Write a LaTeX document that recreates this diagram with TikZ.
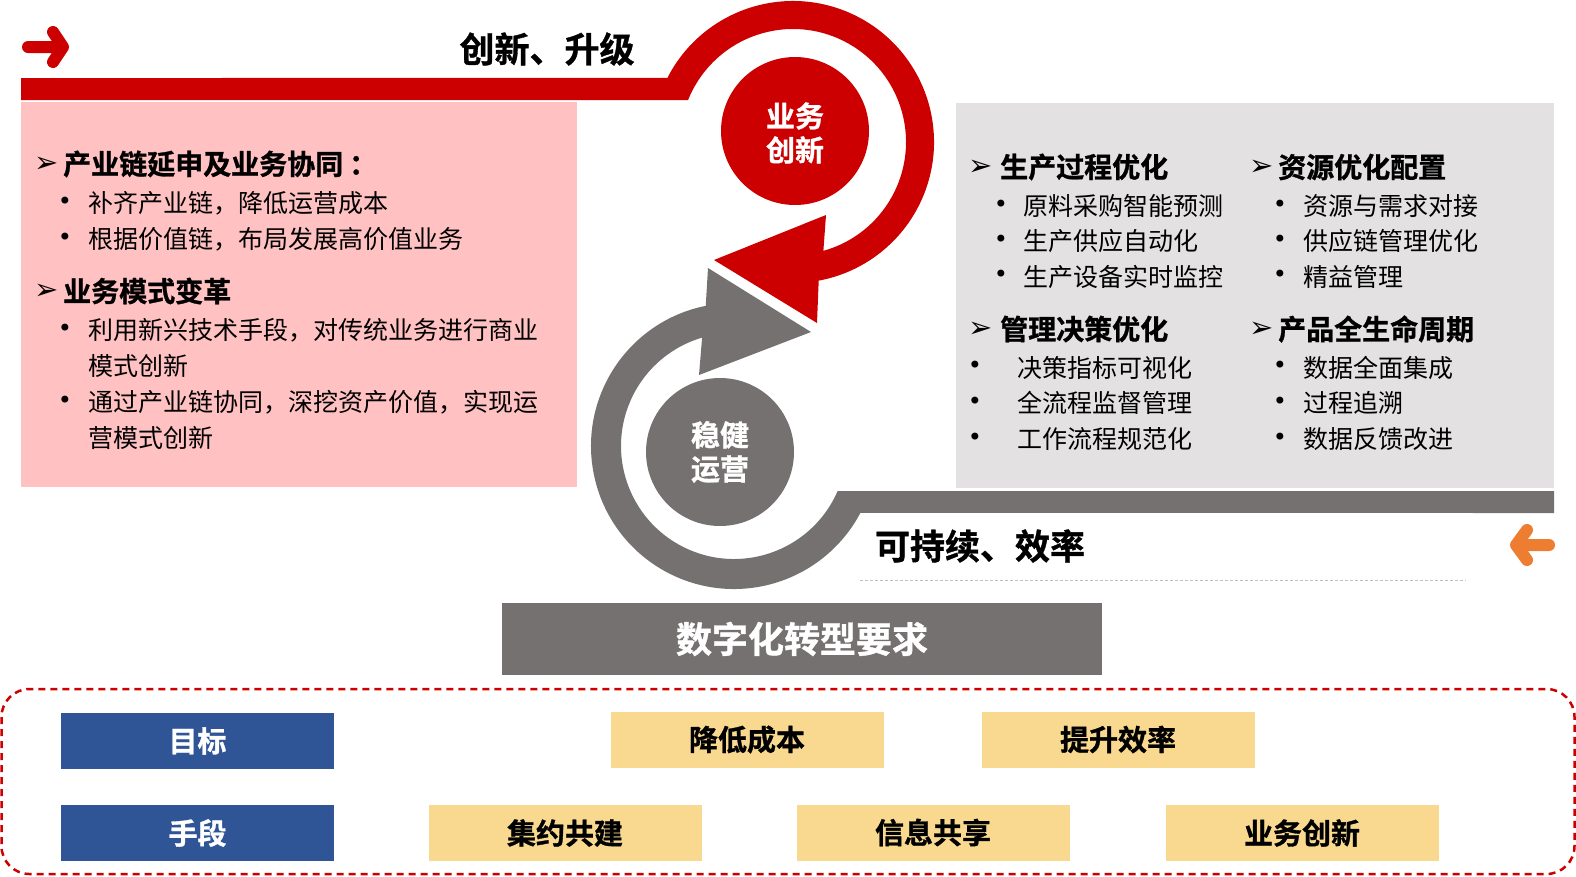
\documentclass[tikz,border=0pt]{standalone}
\usepackage{fontspec}
\setmainfont{Noto Sans CJK SC}[BoldFont={Noto Sans CJK SC Bold}, BoldFeatures={FakeBold=1}]
\newfontfamily\symfont{DejaVu Sans}
\usetikzlibrary{calc}

\definecolor{ringred}{HTML}{CC0000}
\definecolor{ringgray}{HTML}{767171}
\definecolor{pinkbg}{HTML}{FFC1C1}
\definecolor{graybg}{HTML}{E3E1E1}
\definecolor{goalblue}{HTML}{2F5597}
\definecolor{meansyellow}{HTML}{F8D98F}
\definecolor{iconorange}{HTML}{ED7D31}

\tikzset{
  headtext/.style={anchor=west, inner sep=0pt, font=\fontsize{28}{32}\selectfont\bfseries},
  itemtext/.style={anchor=west, inner sep=0pt, font=\fontsize{25}{30}\selectfont},
  headmark/.style={inner sep=0pt, font=\symfont\fontsize{29}{32}\selectfont},
  dotmark/.style={inner sep=0pt, font=\symfont\fontsize{24}{28}\selectfont},
  slogan/.style={inner sep=0pt, font=\fontsize{35}{40}\selectfont\bfseries},
  disctext/.style={align=center, inner sep=0pt, text=white, font=\fontsize{29}{34}\selectfont\bfseries},
  goalbox/.style={fill=goalblue, text=white, minimum width=273pt, minimum height=56pt, inner sep=0pt, font=\fontsize{29}{32}\selectfont\bfseries},
  meansbox/.style={fill=meansyellow, minimum width=273pt, minimum height=56pt, inner sep=0pt, font=\fontsize{29}{32}\selectfont\bfseries},
}

\begin{document}
\begin{tikzpicture}[x=1pt, y=-1pt]

    \useasboundingbox (0,0) rectangle (1576,876);

    %% Background panels
    \fill[pinkbg] (21,102) rectangle (577,487);
    \fill[graybg] (956,103) rectangle (1554,488);

    %% Innovation loop (red)
    \coordinate (rc) at (793,142);
    \fill[ringred] (21,78) -- ($(rc)+(207:141)$)
        arc[start angle=207, end angle=439.5, radius=141]
        -- (817,323) -- (714,260) -- (826,215)
        -- ($(rc)+(434.4:113)$)
        arc[start angle=434.4, end angle=201.8, radius=113]
        -- (21,100) -- cycle;
    \fill[ringred] (795,131) circle (74);
    \node[disctext] (innov) at (795,133) {业务\\创新};

    %% Operation loop (gray)
    \coordinate (gc) at (734,446);
    \fill[ringgray] (1554,491) -- ($(gc)+(23.5:113)$)
        arc[start angle=23.5, end angle=253.6, radius=113]
        -- (699,375) -- (811,332) -- (708,268)
        -- ($(gc)+(258.6:143)$)
        arc[start angle=258.6, end angle=27.9, radius=143]
        -- (1554,513) -- cycle;
    \fill[ringgray] (720,452) circle (74);
    \node[disctext] (oper) at (720,452) {稳健\\运营};

    % Direction icons
    \draw[ringred, line width=12, line cap=round, line join=round]
        (28,47) -- (63,47) (53,32) -- (63,47) -- (53,62);
    \draw[iconorange, line width=12, line cap=round, line join=round]
        (1549,545) -- (1516,545) (1527,530) -- (1516,545) -- (1527,560);

    % Slogans
    \node[slogan] (upgrade) at (547,49) {创新、升级};
    \node[slogan] (sustain) at (980,546) {可持续、效率};
    \draw[black!25, line width=1, dash pattern=on 3 off 2] (860,580) -- (1466,580);

    %% Left panel
    \node[headmark] (lm1) at (47,165) {➢};
    \node[headtext] (lh1) at (63,164) {产业链延申及业务协同\hspace{6pt}：};
    \foreach \y/\t [count=\i] in {203/补齐产业链，降低运营成本, 239/根据价值链，布局发展高价值业务} {
        \node[dotmark] (lb\i) at (65,\y) {•};
        \node[itemtext] (li\i) at (88,\y) {\t};
    }
    \node[headmark] (lm2) at (47,292) {➢};
    \node[headtext] (lh2) at (63,291) {业务模式变革};
    \node[dotmark] (lb3) at (65,330) {•};
    \node[itemtext] (li3) at (88,330) {利用新兴技术手段，对传统业务进行商业};
    \node[itemtext] (li3b) at (88,366) {模式创新};
    \node[dotmark] (lb4) at (65,402) {•};
    \node[itemtext] (li4) at (88,402) {通过产业链协同，深挖资产价值，实现运};
    \node[itemtext] (li4b) at (88,438) {营模式创新};

    %% Right panel
    \node[headmark] (pm) at (981,168) {➢};
    \node[headtext] (ph) at (1000,167) {生产过程优化};
    \foreach \y/\t [count=\i] in {206/原料采购智能预测, 241/生产供应自动化, 276.5/生产设备实时监控} {
        \node[dotmark] (pb\i) at (1001,\y) {•};
        \node[itemtext] (pi\i) at (1023,\y) {\t};
    }
    \node[headmark] (mm) at (981,330) {➢};
    \node[headtext] (mh) at (1000,329) {管理决策优化};
    \foreach \y/\t [count=\i] in {367.5/决策指标可视化, 403/全流程监督管理, 439/工作流程规范化} {
        \node[dotmark] (mb\i) at (975,\y) {•};
        \node[itemtext] (mi\i) at (1017,\y) {\t};
    }
    \node[headmark] (rm) at (1262,168) {➢};
    \node[headtext] (rh) at (1278,167) {资源优化配置};
    \foreach \y/\t [count=\i] in {206/资源与需求对接, 241/供应链管理优化, 276.5/精益管理} {
        \node[dotmark] (rb\i) at (1280,\y) {•};
        \node[itemtext] (ri\i) at (1303,\y) {\t};
    }
    \node[headmark] (lcm) at (1262,330) {➢};
    \node[headtext] (lch) at (1278,329) {产品全生命周期};
    \foreach \y/\t [count=\i] in {367.5/数据全面集成, 403/过程追溯, 439/数据反馈改进} {
        \node[dotmark] (cb\i) at (1280,\y) {•};
        \node[itemtext] (ci\i) at (1303,\y) {\t};
    }

    %% Requirements
    \node[fill=ringgray, text=white, minimum width=600pt, minimum height=72pt, inner sep=0pt,
        font=\fontsize{36}{40}\selectfont\bfseries] (req) at (802,639) {数字化转型要求};
    \draw[ringred, line width=2.5, dash pattern=on 7 off 5, rounded corners=28]
        (1.5,689) rectangle (1574.5,874);

    \node[goalbox] (goal) at (197.5,741) {目标};
    \node[goalbox] (means) at (197.5,833) {手段};
    \node[meansbox] (cost) at (747,739.5) {降低成本};
    \node[meansbox] (eff) at (1118,739.5) {提升效率};
    \node[meansbox] (share) at (565,833) {集约共建};
    \node[meansbox] (info) at (933,832.5) {信息共享};
    \node[meansbox] (biz) at (1302,833) {业务创新};

\end{tikzpicture}
\end{document}
